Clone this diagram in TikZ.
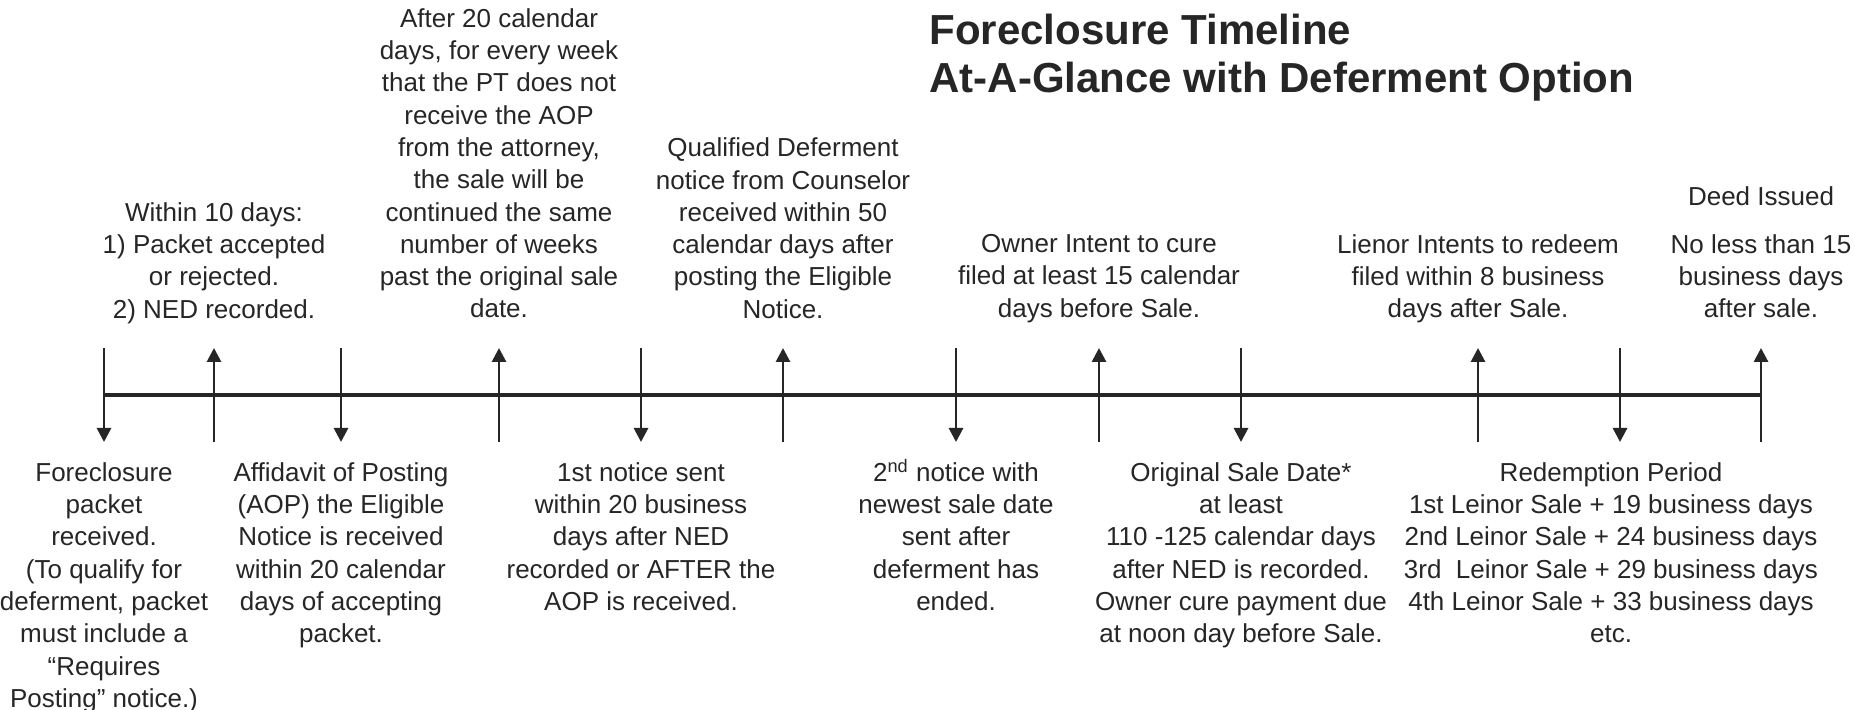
\documentclass[tikz,border=0pt]{standalone}
\usepackage{fontspec}
\setmainfont{Liberation Sans}
\usepackage{tikz}
\usetikzlibrary{
  arrows.meta,
  positioning
}
\definecolor{InkGray}{RGB}{38,38,38}
\tikzset{
  note/.style={align=center,inner sep=0pt,text=InkGray,font=\fontsize{13}{16.15}\selectfont},
  topnote/.style={note,anchor=north},
  botnote/.style={note,anchor=north},
  titletext/.style={align=left,inner sep=0pt,anchor=north west,text=InkGray,font=\bfseries\fontsize{21}{24}\selectfont},
  axisline/.style={line width=2pt,draw=InkGray},
  eventarrow/.style={-{Triangle[length=7pt,width=7pt]},line width=1.4pt,draw=InkGray}
}

\begin{document}
\begin{tikzpicture}[x=0.5pt,y=-0.5pt]
\fill[white] (0,0) rectangle (1855,710);
\useasboundingbox (0,0) rectangle (1855,710);

\node[titletext] (title) at (929,14) {Foreclosure Timeline\\At-A-Glance with Deferment Option};

\coordinate (e1) at (104,395);
\coordinate (e2) at (214,395);
\coordinate (e3) at (341,395);
\coordinate (e4) at (499,395);
\coordinate (e5) at (641,395);
\coordinate (e6) at (783,395);
\coordinate (e7) at (956,395);
\coordinate (e8) at (1099,395);
\coordinate (e9) at (1241,395);
\coordinate (e10) at (1478,395);
\coordinate (e11) at (1620,395);
\coordinate (e12) at (1761,395);

\draw[axisline] (e1) -- (e12);

\draw[eventarrow] ([yshift=23.5pt]e1) -- ([yshift=-23.5pt]e1);
\draw[eventarrow] ([yshift=-23.5pt]e2) -- ([yshift=23.5pt]e2);
\draw[eventarrow] ([yshift=23.5pt]e3) -- ([yshift=-23.5pt]e3);
\draw[eventarrow] ([yshift=-23.5pt]e4) -- ([yshift=23.5pt]e4);
\draw[eventarrow] ([yshift=23.5pt]e5) -- ([yshift=-23.5pt]e5);
\draw[eventarrow] ([yshift=-23.5pt]e6) -- ([yshift=23.5pt]e6);
\draw[eventarrow] ([yshift=23.5pt]e7) -- ([yshift=-23.5pt]e7);
\draw[eventarrow] ([yshift=-23.5pt]e8) -- ([yshift=23.5pt]e8);
\draw[eventarrow] ([yshift=23.5pt]e9) -- ([yshift=-23.5pt]e9);
\draw[eventarrow] ([yshift=-23.5pt]e10) -- ([yshift=23.5pt]e10);
\draw[eventarrow] ([yshift=23.5pt]e11) -- ([yshift=-23.5pt]e11);
\draw[eventarrow] ([yshift=-23.5pt]e12) -- ([yshift=23.5pt]e12);

\node[topnote] (within) at (214,202) {Within 10 days:\\1) Packet accepted\\or rejected.\\2) NED recorded.};
\node[topnote] (continued) at (499,8) {After 20 calendar\\days, for every week\\that the PT does not\\receive the AOP\\from the attorney,\\the sale will be\\continued the same\\number of weeks\\past the original sale\\date.};
\node[topnote] (qualified) at (783,137.5) {Qualified Deferment\\notice from Counselor\\received within 50\\calendar days after\\posting the Eligible\\Notice.};
\node[topnote] (cure) at (1099,234) {Owner Intent to cure\\filed at least 15 calendar\\days before Sale.};
\node[topnote] (redeem) at (1478,234) {Lienor Intents to redeem\\filed within 8 business\\days after Sale.};
\node[topnote] (deed) at (1761,186) {Deed Issued};
\node[topnote] (deedwait) at (1761,234) {No less than 15\\business days\\after sale.};

\node[botnote] (packet) at (104,462) {Foreclosure\\packet\\received.\\(To qualify for\\deferment, packet\\must include a\\“Requires\\Posting” notice.)};
\node[botnote] (affidavit) at (341,462) {Affidavit of Posting\\(AOP) the Eligible\\Notice is received\\within 20 calendar\\days of accepting\\packet.};
\node[botnote] (first) at (641,462) {1st notice sent\\within 20 business\\days after NED\\recorded or AFTER the\\AOP is received.};
\node[botnote] (second) at (956,462) {2\smash{\textsuperscript{nd}} notice with\\newest sale date\\sent after\\deferment has\\ended.};
\node[botnote] (sale) at (1241,462) {Original Sale Date*\\at least\\110 -125 calendar days\\after NED is recorded.\\Owner cure payment due\\at noon day before Sale.};
\node[botnote] (redemption) at (1611,462) {Redemption Period\\1st Leinor Sale + 19 business days\\2nd Leinor Sale + 24 business days\\3rd\ \ Leinor Sale + 29 business days\\4th Leinor Sale + 33 business days\\etc.};
\end{tikzpicture}
\end{document}
